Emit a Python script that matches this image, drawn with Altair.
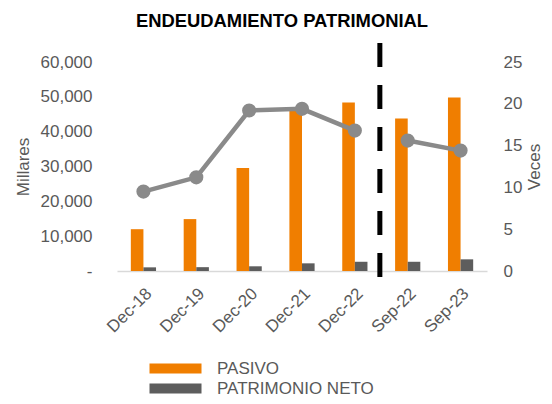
import altair as alt
import pandas as pd

categories = ["Dec-18", "Dec-19", "Dec-20", "Dec-21", "Dec-22", "Sep-22", "Sep-23"]
pasivo = [12000, 14900, 29600, 46500, 48400, 43800, 49800]
patrimonio = [1050, 1100, 1350, 2200, 2650, 2650, 3350]
veces = [9.5, 11.2, 19.2, 19.4, 16.8, 15.6, 14.4]
segment = ["A", "A", "A", "A", "A", "B", "B"]
series = ["PASIVO", "PATRIMONIO NETO"]
colors = ["#F07E00", "#5D5D5D"]
divider = ["Sep-22"]

FONT = "Liberation Sans"
TXT = "#595959"

bar_rows = []
for c, p, n in zip(categories, pasivo, patrimonio):
    bar_rows.append({"cat": c, "serie": series[0], "valor": p})
    bar_rows.append({"cat": c, "serie": series[1], "valor": n})
bar_df = pd.DataFrame(bar_rows)
line_df = pd.DataFrame({"cat": categories, "veces": veces, "seg": segment})
div_df = pd.DataFrame({"cat": divider})

x_enc = alt.X(
    "cat:N", sort=categories, title=None,
    scale=alt.Scale(paddingInner=0.4, paddingOuter=0.2),
    axis=alt.Axis(labelAngle=-45, labelFontSize=17, labelFont=FONT, labelColor=TXT,
                  ticks=False, domainColor="#D9D9D9", domainWidth=1.5, labelPadding=14,
                  grid=False),
)

bars = alt.Chart(bar_df).mark_bar().encode(
    x=x_enc,
    xOffset=alt.XOffset("serie:N", sort=series,
                        scale=alt.Scale(paddingInner=0, paddingOuter=0.258)),
    y=alt.Y("valor:Q", scale=alt.Scale(domain=[0, 60000], nice=False),
            axis=alt.Axis(title="Millares", values=[0, 10000, 20000, 30000, 40000, 50000, 60000],
                          labelExpr="datum.value == 0 ? '-' : format(datum.value, ',')",
                          labelFontSize=17, labelFont=FONT, labelColor=TXT,
                          ticks=False, domain=False, grid=False, labelPadding=25,
                          titleFontSize=17, titleFont=FONT, titleColor=TXT,
                          titleFontWeight="normal", titleAngle=270, titleX=-94, titleY=104.5,
                          titleAlign="center", titleBaseline="middle")),
    color=alt.Color("serie:N", sort=series,
                    scale=alt.Scale(domain=series, range=colors),
                    legend=alt.Legend(title=None, orient="none", legendX=50, legendY=298,
                                      direction="vertical",
                                      symbolType="M-5.2,-1H5.2V1H-5.2Z", symbolSize=100,
                                      symbolStrokeWidth=0, labelFontSize=17, labelFont=FONT,
                                      labelColor=TXT, labelOffset=33, rowPadding=2, padding=0)),
)

line = alt.Chart(line_df).mark_line(
    color="#8A8A8A", strokeWidth=4.5,
    point=alt.OverlayMarkDef(filled=True, size=200, color="#8A8A8A"),
).encode(
    x=alt.X("cat:N", sort=categories),
    y=alt.Y("veces:Q", scale=alt.Scale(domain=[0, 25], nice=False),
            axis=alt.Axis(orient="right", title="Veces", values=[0, 5, 10, 15, 20, 25],
                          labelFontSize=17, labelFont=FONT, labelColor=TXT,
                          ticks=False, domain=False, grid=False, labelPadding=16,
                          titleFontSize=17, titleFont=FONT, titleColor=TXT,
                          titleFontWeight="normal", titleAngle=270, titleX=47, titleY=104.5,
                          titleAlign="center", titleBaseline="middle")),
    detail="seg:N",
)

rule = alt.Chart(div_df).mark_rule(color="black", strokeWidth=5, strokeDash=[24, 18],
                                    xOffset=-12).encode(
    x=alt.X("cat:N", sort=categories, bandPosition=0),
    y=alt.value(-19),
    y2=alt.value(216),
)

chart = alt.layer(bars, line, rule).resolve_scale(y="independent").properties(
    width=370, height=209,
    background="white",
    autosize=alt.AutoSizeParams(type="none"),
    padding={"left": 109, "top": 54, "right": 57, "bottom": 125},
    title=alt.TitleParams("ENDEUDAMIENTO PATRIMONIAL", fontSize=18.4, font=FONT,
                          fontWeight="bold", color="black", anchor="middle", dx=-20,
                          offset=10),
).configure_view(stroke=None)

chart.save("out.html", embed_options={"renderer": "svg", "actions": False})
